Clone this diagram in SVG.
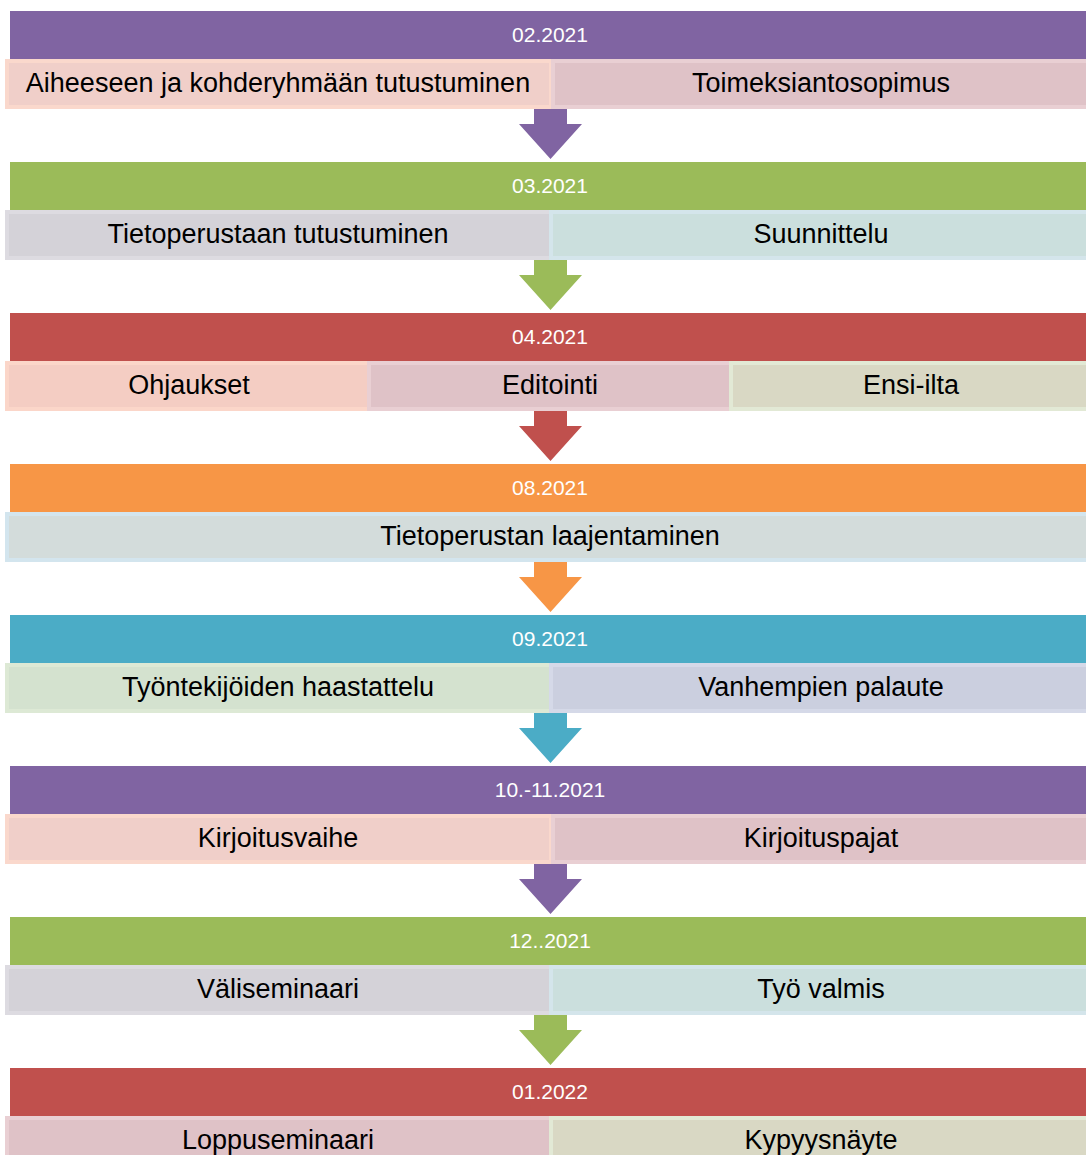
<svg xmlns="http://www.w3.org/2000/svg" width="1086" height="1155" viewBox="0 0 1086 1155">
<style>
.hd{font-family:"Liberation Sans",Arial,sans-serif;font-size:21px;fill:#ffffff;text-anchor:middle;dominant-baseline:central}
.tx{font-family:"Liberation Sans",Arial,sans-serif;font-size:27px;fill:#000000;text-anchor:middle;dominant-baseline:central}
.bx{stroke-width:4}
.purple{fill:#8064a2}.green{fill:#9bbb59}.red{fill:#c0504d}.orange{fill:#f79646}.teal{fill:#4bacc6}
.peach{fill:#f0cfc9;stroke:#fad8cc}
.mauve{fill:#dfc2c7;stroke:#e9cfd3}
.grey{fill:#d4d2d8;stroke:#dddbe1}
.aqua{fill:#cbdfdd;stroke:#d4e5eb}
.peach2{fill:#f4cdc3;stroke:#fbd6c9}
.olive{fill:#d9d8c4;stroke:#e2e9d5}
.bgrey{fill:#d3dcdb;stroke:#d3e5ee}
.lgreen{fill:#d4e2cf;stroke:#dde9d5}
.lav{fill:#cbcfdf;stroke:#d5d9e8}
</style>
<rect width="1086" height="1155" fill="#ffffff"/>
<g id="connectors">
<path class="purple" d="M534,107H567V124H582L550.5,159L519,124H534Z"/>
<path class="green" d="M534,258H567V275H582L550.5,310L519,275H534Z"/>
<path class="red" d="M534,409H567V426H582L550.5,461L519,426H534Z"/>
<path class="orange" d="M534,560H567V577H582L550.5,612L519,577H534Z"/>
<path class="teal" d="M534,711H567V728H582L550.5,763L519,728H534Z"/>
<path class="purple" d="M534,862H567V879H582L550.5,914L519,879H534Z"/>
<path class="green" d="M534,1013H567V1030H582L550.5,1065L519,1030H534Z"/>
</g>
<g id="row1">
<rect class="purple" x="10" y="11" width="1081" height="48"/>
<text class="hd" x="550" y="34">02.2021</text>
<rect class="bx peach" x="7" y="61" width="544" height="46"/>
<rect class="bx mauve" x="553" y="61" width="540" height="46"/>
<text class="tx" x="278" y="83">Aiheeseen ja kohderyhmään tutustuminen</text>
<text class="tx" x="821" y="83">Toimeksiantosopimus</text>
</g>
<g id="row2">
<rect class="green" x="10" y="162" width="1081" height="48"/>
<text class="hd" x="550" y="185">03.2021</text>
<rect class="bx grey" x="7" y="212" width="544" height="46"/>
<rect class="bx aqua" x="551" y="212" width="542" height="46"/>
<text class="tx" x="278" y="234">Tietoperustaan tutustuminen</text>
<text class="tx" x="821" y="234">Suunnittelu</text>
</g>
<g id="row3">
<rect class="red" x="10" y="313" width="1081" height="48"/>
<text class="hd" x="550" y="336">04.2021</text>
<rect class="bx peach2" x="7" y="363" width="362" height="46"/>
<rect class="bx mauve" x="369" y="363" width="362" height="46"/>
<rect class="bx olive" x="731" y="363" width="362" height="46"/>
<text class="tx" x="189" y="385">Ohjaukset</text>
<text class="tx" x="550" y="385">Editointi</text>
<text class="tx" x="911" y="385">Ensi-ilta</text>
</g>
<g id="row4">
<rect class="orange" x="10" y="464" width="1081" height="48"/>
<text class="hd" x="550" y="487">08.2021</text>
<rect class="bx bgrey" x="7" y="514" width="1086" height="46"/>
<text class="tx" x="550" y="536">Tietoperustan laajentaminen</text>
</g>
<g id="row5">
<rect class="teal" x="10" y="615" width="1081" height="48"/>
<text class="hd" x="550" y="638">09.2021</text>
<rect class="bx lgreen" x="7" y="665" width="544" height="46"/>
<rect class="bx lav" x="551" y="665" width="542" height="46"/>
<text class="tx" x="278" y="687">Työntekijöiden haastattelu</text>
<text class="tx" x="821" y="687">Vanhempien palaute</text>
</g>
<g id="row6">
<rect class="purple" x="10" y="766" width="1081" height="48"/>
<text class="hd" x="550" y="789">10.-11.2021</text>
<rect class="bx peach" x="7" y="816" width="544" height="46"/>
<rect class="bx mauve" x="553" y="816" width="540" height="46"/>
<text class="tx" x="278" y="838">Kirjoitusvaihe</text>
<text class="tx" x="821" y="838">Kirjoituspajat</text>
</g>
<g id="row7">
<rect class="green" x="10" y="917" width="1081" height="48"/>
<text class="hd" x="550" y="940">12..2021</text>
<rect class="bx grey" x="7" y="967" width="544" height="46"/>
<rect class="bx aqua" x="551" y="967" width="542" height="46"/>
<text class="tx" x="278" y="989">Väliseminaari</text>
<text class="tx" x="821" y="989">Työ valmis</text>
</g>
<g id="row8">
<rect class="red" x="10" y="1068" width="1081" height="48"/>
<text class="hd" x="550" y="1091">01.2022</text>
<rect class="bx mauve" x="7" y="1118" width="544" height="46"/>
<rect class="bx olive" x="551" y="1118" width="542" height="46"/>
<text class="tx" x="278" y="1140">Loppuseminaari</text>
<text class="tx" x="821" y="1140">Kypyysnäyte</text>
</g>
</svg>
